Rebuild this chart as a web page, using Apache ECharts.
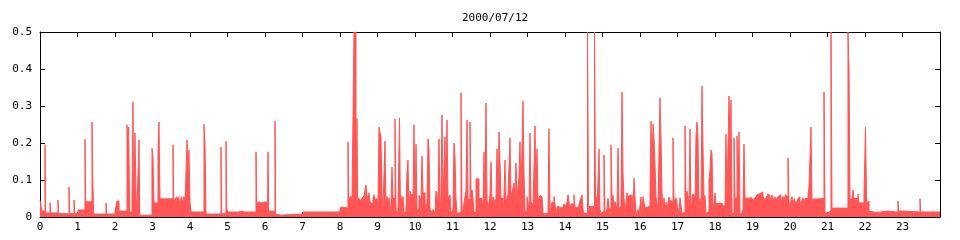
<!DOCTYPE html>
<html>
<head>
<meta charset="utf-8">
<script src="https://cdn.jsdelivr.net/npm/echarts@6/dist/echarts.min.js"></script>
<style>html,body{margin:0;padding:0;background:#fff}#c{width:960px;height:240px}</style>
</head>
<body>
<div id="c"></div>
<script>
// Chart title and axis ticks
var titleText = '2000/07/12';
var hourTicks = [0,1,2,3,4,5,6,7,8,9,10,11,12,13,14,15,16,17,18,19,20,21,22,23];
var yTicks = [0, 0.1, 0.2, 0.3, 0.4, 0.5];

// Step data: [hour at which the value starts, value]
var block00 = [[0.00,0.045],[0.053,0.016],[0.133,0.195],[0.151,0.011],[0.267,0.038],[0.285,0.011],[0.48,0.046],[0.498,0.009],[0.56,0.012],[0.578,0.009],[0.613,0.012],[0.631,0.009],[0.667,0.012],[0.685,0.009],[0.773,0.081],[0.791,0.009],[0.907,0.046],[0.924,0.009],[1.013,0.019],[1.2,0.21],[1.218,0.041],[1.387,0.257],[1.405,0.113],[1.431,0.008],[1.76,0.038],[1.778,0.008],[2.0,0.016],[2.053,0.043],[2.107,0.016],[2.32,0.249],[2.338,0.222],[2.365,0.243],[2.391,0.013],[2.453,0.054],[2.48,0.311],[2.498,0.013],[2.533,0.227],[2.56,0.057],[2.587,0.027],[2.64,0.208],[2.658,0.005],[2.987,0.186],[3.013,0.162],[3.04,0.038],[3.147,0.178],[3.173,0.257],[3.2,0.049],[3.547,0.195],[3.565,0.04],[3.6,0.048],[3.64,0.055],[3.67,0.046],[3.7,0.055],[3.73,0.032],[3.77,0.055],[3.8,0.04],[3.84,0.055],[3.87,0.045],[3.9,0.04],[3.92,0.208],[3.947,0.119],[3.973,0.181]];
var block04 = [[4.0,0.04],[4.027,0.0135],[4.373,0.251],[4.4,0.195],[4.427,0.008],[4.827,0.189],[4.845,0.008],[4.88,0.011],[4.96,0.205],[4.978,0.024],[5.005,0.0135],[5.1,0.016],[5.13,0.0135],[5.2,0.016],[5.23,0.0135],[5.3,0.016],[5.37,0.0135],[5.45,0.016],[5.48,0.0135],[5.56,0.016],[5.59,0.0135],[5.76,0.176],[5.778,0.04],[5.84,0.038],[5.92,0.041],[6.0,0.038],[6.067,0.014],[6.08,0.176],[6.098,0.016],[6.213,0.0135],[6.267,0.259],[6.285,0.005],[6.32,0.008],[6.34,0.005],[6.4,0.008],[7.013,0.0135],[7.15,0.016],[7.18,0.0135],[7.3,0.016],[7.33,0.0135],[7.42,0.016],[7.45,0.0135],[7.55,0.016],[7.6,0.0135],[7.62,0.016],[7.65,0.0135]];
var block08 = [[8.0,0.02],[8.027,0.027],[8.08,0.024],[8.213,0.203],[8.231,0.057],[8.267,0.044],[8.293,0.057],[8.32,0.044],[8.373,0.5],[8.427,0.089],[8.453,0.265],[8.471,0.051],[8.507,0.048],[8.533,0.051],[8.56,0.04],[8.587,0.051],[8.64,0.057],[8.693,0.086],[8.72,0.057],[8.747,0.051],[8.773,0.065],[8.8,0.04],[8.827,0.035],[8.88,0.051],[8.907,0.06],[8.933,0.045],[8.96,0.05],[8.987,0.055],[9.013,0.025],[9.04,0.243],[9.093,0.214],[9.12,0.055],[9.147,0.025],[9.2,0.205],[9.227,0.03],[9.253,0.055],[9.28,0.04],[9.307,0.052],[9.333,0.008],[9.36,0.035],[9.387,0.135],[9.413,0.05],[9.467,0.265],[9.493,0.018],[9.52,0.012],[9.547,0.018],[9.587,0.268],[9.613,0.01],[9.627,0.057],[9.653,0.035],[9.68,0.055],[9.707,0.01],[9.733,0.012],[9.76,0.016],[9.787,0.122],[9.813,0.154],[9.84,0.014],[9.867,0.07],[9.893,0.06],[9.947,0.02],[9.973,0.249],[10.0,0.018],[10.027,0.197],[10.053,0.02],[10.107,0.058],[10.133,0.06],[10.16,0.045],[10.187,0.165],[10.213,0.065],[10.267,0.04],[10.293,0.02],[10.32,0.04],[10.347,0.211],[10.373,0.181],[10.4,0.02],[10.453,0.012],[10.48,0.02],[10.533,0.01],[10.56,0.07],[10.587,0.075],[10.613,0.04],[10.64,0.211],[10.667,0.014],[10.693,0.057],[10.72,0.276],[10.747,0.05],[10.8,0.217],[10.827,0.05],[10.853,0.262],[10.88,0.05],[10.907,0.045],[10.933,0.06],[10.96,0.01],[11.013,0.02],[11.04,0.2],[11.067,0.162],[11.093,0.05],[11.12,0.01],[11.147,0.006],[11.173,0.012],[11.227,0.336],[11.253,0.01],[11.28,0.02],[11.333,0.055],[11.36,0.07],[11.387,0.262],[11.413,0.05],[11.44,0.045],[11.467,0.257],[11.493,0.06],[11.52,0.073],[11.547,0.05],[11.573,0.012],[11.627,0.103],[11.707,0.05],[11.733,0.045],[11.76,0.05],[11.787,0.042],[11.813,0.02],[11.84,0.176],[11.867,0.05],[11.893,0.308],[11.92,0.05],[11.947,0.02],[11.973,0.04]];
var block12 = [[12.0,0.06],[12.027,0.149],[12.053,0.035],[12.08,0.054],[12.133,0.04],[12.16,0.049],[12.187,0.184],[12.213,0.05],[12.24,0.23],[12.267,0.146],[12.293,0.05],[12.347,0.01],[12.373,0.055],[12.4,0.154],[12.427,0.04],[12.453,0.05],[12.48,0.06],[12.533,0.214],[12.56,0.06],[12.587,0.066],[12.64,0.092],[12.667,0.055],[12.693,0.146],[12.72,0.052],[12.747,0.056],[12.773,0.108],[12.8,0.203],[12.827,0.06],[12.88,0.314],[12.907,0.116],[12.933,0.015],[12.987,0.055],[13.013,0.06],[13.04,0.02],[13.067,0.227],[13.093,0.04],[13.12,0.035],[13.147,0.02],[13.2,0.246],[13.227,0.065],[13.253,0.184],[13.28,0.04],[13.307,0.05],[13.333,0.058],[13.36,0.055],[13.387,0.05],[13.413,0.01],[13.44,0.008],[13.493,0.01],[13.52,0.012],[13.547,0.01],[13.573,0.238],[13.6,0.015],[13.627,0.02],[13.653,0.04],[13.707,0.055],[13.733,0.06],[13.76,0.015],[13.787,0.02],[13.813,0.03],[13.84,0.025],[13.867,0.03],[13.893,0.02],[13.92,0.025],[13.947,0.03],[13.973,0.035],[14.0,0.03],[14.027,0.025],[14.053,0.04],[14.08,0.06],[14.107,0.065],[14.133,0.02],[14.16,0.035],[14.187,0.04],[14.213,0.035],[14.24,0.06],[14.267,0.025],[14.32,0.027],[14.373,0.035],[14.4,0.045],[14.427,0.052],[14.453,0.06],[14.48,0.02],[14.507,0.01],[14.533,0.013],[14.56,0.01],[14.6,0.5],[14.627,0.028],[14.787,0.5],[14.813,0.052],[14.84,0.055],[14.867,0.06],[14.88,0.055],[14.907,0.184],[14.933,0.02],[14.96,0.01],[14.987,0.015],[15.04,0.168],[15.067,0.01],[15.093,0.015],[15.12,0.02],[15.147,0.05],[15.173,0.025],[15.2,0.02],[15.227,0.195],[15.253,0.052],[15.28,0.058],[15.307,0.03],[15.333,0.042],[15.36,0.03],[15.387,0.02],[15.413,0.186],[15.44,0.022],[15.467,0.017],[15.493,0.03],[15.52,0.338],[15.547,0.119],[15.573,0.05],[15.6,0.022],[15.627,0.035],[15.653,0.065],[15.68,0.055],[15.707,0.06],[15.76,0.01],[15.787,0.06],[15.813,0.005],[15.84,0.105],[15.893,0.005],[15.92,0.012],[15.947,0.02],[15.973,0.01]];
var block16 = [[16.0,0.03],[16.027,0.054],[16.053,0.01],[16.08,0.055],[16.107,0.052],[16.133,0.025],[16.16,0.027],[16.213,0.03],[16.267,0.057],[16.293,0.259],[16.32,0.135],[16.347,0.251],[16.373,0.214],[16.4,0.141],[16.427,0.055],[16.453,0.06],[16.48,0.02],[16.533,0.322],[16.56,0.211],[16.587,0.065],[16.613,0.015],[16.64,0.052],[16.667,0.01],[16.693,0.04],[16.72,0.018],[16.747,0.04],[16.773,0.054],[16.8,0.045],[16.827,0.042],[16.88,0.214],[16.907,0.042],[16.933,0.045],[16.96,0.052],[16.987,0.035],[17.013,0.02],[17.04,0.01],[17.067,0.052],[17.12,0.01],[17.147,0.012],[17.2,0.246],[17.227,0.05],[17.253,0.07],[17.28,0.054],[17.307,0.03],[17.333,0.238],[17.36,0.008],[17.387,0.05],[17.413,0.062],[17.44,0.057],[17.467,0.015],[17.493,0.219],[17.52,0.257],[17.547,0.211],[17.573,0.015],[17.6,0.05],[17.627,0.015],[17.653,0.354],[17.68,0.189],[17.707,0.05],[17.733,0.058],[17.76,0.01],[17.787,0.013],[17.813,0.015],[17.84,0.1],[17.867,0.127],[17.893,0.181],[17.92,0.17],[17.947,0.01],[18.0,0.065],[18.027,0.035],[18.053,0.037],[18.107,0.042],[18.133,0.037],[18.187,0.033],[18.213,0.03],[18.267,0.033],[18.293,0.224],[18.32,0.047],[18.373,0.327],[18.4,0.208],[18.427,0.316],[18.453,0.01],[18.507,0.214],[18.533,0.05],[18.56,0.052],[18.587,0.219],[18.613,0.05],[18.64,0.23],[18.667,0.005],[18.693,0.008],[18.72,0.012],[18.747,0.02],[18.773,0.197],[18.8,0.051],[18.907,0.048],[18.96,0.052],[18.987,0.046],[19.04,0.05],[19.067,0.055],[19.093,0.046],[19.12,0.06],[19.147,0.055],[19.173,0.063],[19.2,0.068],[19.227,0.062],[19.253,0.068],[19.28,0.055],[19.307,0.05],[19.333,0.046],[19.36,0.052],[19.387,0.055],[19.413,0.062],[19.44,0.058],[19.467,0.04],[19.493,0.042],[19.52,0.06],[19.547,0.045],[19.573,0.05],[19.6,0.055],[19.627,0.045],[19.653,0.05],[19.68,0.055],[19.707,0.05],[19.733,0.06],[19.76,0.04],[19.787,0.04],[19.813,0.055],[19.84,0.05],[19.867,0.06],[19.893,0.055],[19.947,0.16],[19.973,0.04]];
var block20 = [[20.0,0.025],[20.027,0.045],[20.053,0.055],[20.08,0.03],[20.107,0.05],[20.133,0.055],[20.16,0.035],[20.213,0.05],[20.24,0.055],[20.267,0.035],[20.32,0.045],[20.347,0.052],[20.373,0.035],[20.4,0.05],[20.427,0.055],[20.453,0.05],[20.48,0.06],[20.507,0.081],[20.56,0.243],[20.587,0.048],[20.613,0.05],[20.907,0.338],[20.933,0.011],[21.013,0.016],[21.093,0.5],[21.12,0.024],[21.547,0.5],[21.573,0.397],[21.6,0.051],[21.627,0.043],[21.653,0.05],[21.68,0.073],[21.707,0.05],[21.813,0.062],[21.84,0.038],[21.973,0.057],[22.013,0.243],[22.04,0.05],[22.053,0.038],[22.08,0.043],[22.107,0.016],[22.133,0.013],[22.267,0.016],[22.32,0.013],[22.373,0.016],[22.613,0.013],[22.88,0.043],[22.9,0.016],[23.013,0.0135],[23.467,0.049],[23.485,0.0135],[24.0,0.0135]];

var stepData = [].concat(block00, block04, block08, block12, block16, block20);

var fontFam = '"DejaVu Sans Mono", "Liberation Mono", monospace';
var chart = echarts.init(document.getElementById('c'), null, {renderer: 'canvas'});
var axisLineStyle = {color: '#000', width: 1};
chart.setOption({
  animation: false,
  backgroundColor: '#fff',
  title: {
    text: titleText, left: 457, top: 8,
    textStyle: {fontFamily: fontFam, fontSize: 11, fontWeight: 'normal', color: '#000'}
  },
  grid: {left: 40, right: 20, top: 32, bottom: 23, containLabel: false},
  xAxis: [{
    type: 'value', min: 0, max: 24, interval: 1, position: 'bottom',
    axisLine: {show: true, onZero: false, lineStyle: axisLineStyle},
    axisTick: {show: true, inside: true, length: 5, lineStyle: axisLineStyle},
    axisLabel: {
      margin: 5, fontFamily: fontFam, fontSize: 11, color: '#000',
      formatter: function (v) { return hourTicks.indexOf(v) >= 0 ? String(v) : ''; }
    },
    splitLine: {show: false}
  }, {
    type: 'value', min: 0, max: 24, interval: 1, position: 'top',
    axisLine: {show: true, onZero: false, lineStyle: axisLineStyle},
    axisTick: {show: true, inside: true, length: 5, lineStyle: axisLineStyle},
    axisLabel: {show: false}, splitLine: {show: false}
  }],
  yAxis: [{
    type: 'value', min: 0, max: 0.5, interval: 0.1, position: 'left',
    axisLine: {show: true, onZero: false, lineStyle: axisLineStyle},
    axisTick: {show: true, inside: true, length: 5, lineStyle: axisLineStyle},
    axisLabel: {
      margin: 8, fontFamily: fontFam, fontSize: 11, color: '#000',
      formatter: function (v) {
        for (var i = 0; i < yTicks.length; i++) {
          if (Math.abs(yTicks[i] - v) < 1e-9) return yTicks[i] === 0 ? '0' : yTicks[i].toFixed(1);
        }
        return '';
      }
    },
    splitLine: {show: false}
  }, {
    type: 'value', min: 0, max: 0.5, interval: 0.1, position: 'right',
    axisLine: {show: true, onZero: false, lineStyle: axisLineStyle},
    axisTick: {show: true, inside: true, length: 5, lineStyle: axisLineStyle},
    axisLabel: {show: false}, splitLine: {show: false}
  }],
  series: [{
    type: 'line', step: 'end', xAxisIndex: 0, yAxisIndex: 0,
    data: stepData, symbol: 'none', showSymbol: false,
    lineStyle: {color: '#ff5555', width: 1},
    areaStyle: {color: '#ff5555', opacity: 1},
    itemStyle: {color: '#ff5555'},
    silent: true, clip: true
  }]
});
</script>
</body>
</html>
